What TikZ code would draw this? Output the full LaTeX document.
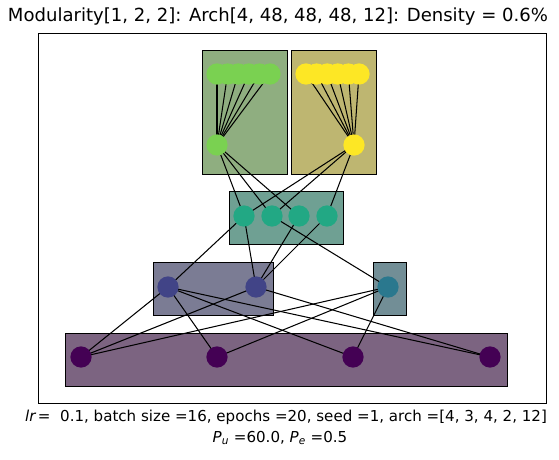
\documentclass[tikz,border=0pt]{standalone}
\usepackage{fontspec}
\setmainfont{DejaVu Sans}
\pgfdeclarelayer{bg}
\pgfdeclarelayer{edges}
\pgfsetlayers{bg,edges,main}
\definecolor{vA}{HTML}{440154}
\definecolor{vB}{HTML}{414487}
\definecolor{vC}{HTML}{2A788E}
\definecolor{vD}{HTML}{22A884}
\definecolor{vE}{HTML}{7AD151}
\definecolor{vF}{HTML}{FDE725}
\definecolor{gr}{RGB}{155,155,155}
\colorlet{bA}{vA!36!gr}
\colorlet{bB}{vB!36!gr}
\colorlet{bC}{vC!36!gr}
\colorlet{bD}{vD!36!gr}
\colorlet{bE}{vE!36!gr}
\colorlet{bF}{vF!36!gr}
\begin{document}
\begin{tikzpicture}[x=0.72pt,y=-0.72pt,
  unit/.style={circle, inner sep=0pt, minimum size=15.3pt, fill=#1},
  modbox/.style={draw=black, line width=0.72pt, fill=#1},
  conn/.style={line width=0.75pt, black},
  axframe/.style={line width=0.72pt, draw=black}]
\useasboundingbox (0,0) rectangle (559,459);

% title and labels
\node[font=\fontsize{13}{15}\selectfont, inner sep=0pt] (title) at (278,17) {Modularity[1, 2, 2]: Arch[4, 48, 48, 48, 12]: Density = 0.6\%};
\node[font=\fontsize{10.85}{13}\selectfont, inner sep=0pt] (lab1) at (286,417) {{\itshape lr}\,=\ \ 0.1, batch size =16, epochs =20, seed =1, arch =[4, 3, 4, 2, 12]};
\node[font=\fontsize{10.85}{13}\selectfont, inner sep=0pt] (lab2) at (280,438) {{\itshape P}\textsubscript{\itshape u} =60.0, {\itshape P}\textsubscript{\itshape e} =0.5};

% units
\node[unit=vA] (b1) at (81,357) {};
\node[unit=vA] (b2) at (217,357) {};
\node[unit=vA] (b3) at (353,357) {};
\node[unit=vA] (b4) at (490,357) {};
\node[unit=vB] (c1) at (168,287) {};
\node[unit=vB] (c2) at (256,287) {};
\node[unit=vC] (c3) at (388,287) {};
\node[unit=vD] (d1) at (244,216) {};
\node[unit=vD] (d2) at (272,216) {};
\node[unit=vD] (d3) at (299,216) {};
\node[unit=vD] (d4) at (327,216) {};
\node[unit=vE] (e1) at (217,145) {};
\node[unit=vF] (e2) at (354,145) {};
\foreach \i in {1,...,6}{
  \node[unit=vE] (g\i) at ({217+10.6*(\i-1)},74) {};
}
\foreach \i in {1,...,6}{
  \node[unit=vF] (y\i) at ({306+10.6*(\i-1)},74) {};
}

\begin{pgfonlayer}{bg}
  \fill[white] (0,0) rectangle (559,459);
  \draw[axframe] (38,33) rectangle (546,403);
  \path[modbox=bA] (65,333) rectangle (507,386);
  \path[modbox=bB] (153,262) rectangle (273,315);
  \path[modbox=bC] (373,262) rectangle (406,315);
  \path[modbox=bD] (229,191) rectangle (343,244);
  \path[modbox=bE] (202,50) rectangle (287,174);
  \path[modbox=bF] (291,50) rectangle (376,174);
\end{pgfonlayer}

\begin{pgfonlayer}{edges}
  \foreach \i in {1,...,6}{
    \draw[conn] (g\i.center) -- (e1.center);
    \draw[conn] (y\i.center) -- (e2.center);
  }
  \foreach \a/\b in {e1/d1,e1/d2,e1/d3,e2/d1,e2/d2,e2/d4,
                     d1/c1,d1/c2,d2/c3,d3/c2,d4/c2,
                     c1/b1,c1/b2,c1/b3,c1/b4,c2/b1,c2/b4,c3/b1,c3/b2,c3/b3}{
    \draw[conn] (\a.center) -- (\b.center);
  }
\end{pgfonlayer}
\end{tikzpicture}
\end{document}
